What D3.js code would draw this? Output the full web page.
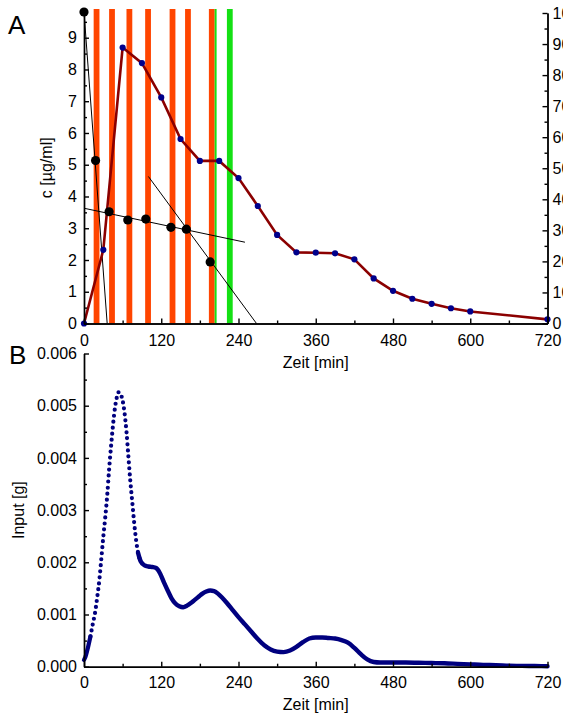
<!DOCTYPE html>
<html>
<head>
<meta charset="utf-8">
<script src="https://cdn.jsdelivr.net/npm/d3@7"></script>
<style>
  body { margin: 0; background: #fff; }
  svg { display: block; font-family: "Liberation Sans", Arial, sans-serif; }
  .axis text { font-size: 16px; fill: #000; font-family: "Liberation Sans", Arial, sans-serif; }
  .axis path, .axis line { stroke: #000; stroke-width: 1.4; }
  .title { font-size: 16px; }
  .panel { font-size: 26px; }
</style>
</head>
<body>
<div id="chart"></div>
<script>
// panel A: concentration after the pulses
var timeA = [0, 30, 60, 90, 120, 150, 180, 210, 240, 270, 300, 330, 360, 390, 420, 450, 480, 510, 540, 570, 600, 720];
var concA = [0, 2.32, 8.69, 8.20, 7.12, 5.81, 5.12, 5.12, 4.58, 3.70, 2.79, 2.24, 2.23, 2.21, 2.02, 1.42, 1.03, 0.78, 0.62, 0.48, 0.38, 0.13];

// orange and green stripes (start / end, min)
var pulseStart = [15, 39, 66, 95, 133, 157, 194];
var pulseEnd = [24, 48, 75, 104, 142, 166, 203];
var greenStart = [203, 222];
var greenEnd = [206, 231];

// black points and the fitted lines
var fitTime = [0, 18, 39, 68, 96, 135, 159, 196];
var fitConc = [9.81, 5.13, 3.52, 3.26, 3.29, 3.03, 2.97, 1.94];
var fitLineStart = [[0, 9.81], [0, 3.63], [100, 4.63]];
var fitLineEnd = [[36, 0], [250, 2.56], [268, 0]];

var xTicks = [0, 120, 240, 360, 480, 600, 720];
var leftTicks = [0, 1, 2, 3, 4, 5, 6, 7, 8, 9];
var rightTicks = [0, 10, 20, 30, 40, 50, 60, 70, 80, 90, 100];

// panel B: input curve (g)
var timeB = [0, 2, 6, 10, 14, 17, 20, 24, 27, 30, 33, 36, 39, 42, 45, 48, 51, 54, 57, 60, 63, 66, 69, 72, 75, 78, 81, 84, 88,
  94, 100, 106, 112, 118, 124, 130, 136, 142, 148, 154, 160, 166, 172, 178, 184, 190, 196, 202, 208, 214, 222, 230,
  240, 250, 260, 270, 280, 290, 300, 310, 320, 330, 340, 350, 360, 370, 380, 390, 400, 410, 420, 430, 440, 450, 460,
  480, 500, 520, 540, 560, 580, 600, 620, 640, 660, 680, 700, 720];
var inputB = [0.13, 0.18, 0.36, 0.58, 0.84, 1.02, 1.28, 1.68, 2.08, 2.49, 2.86, 3.27, 3.78, 4.22, 4.62, 4.95, 5.16, 5.26, 5.22, 5.10, 4.86, 4.50, 4.02, 3.55, 3.15, 2.75, 2.42, 2.18, 2.02,
  1.94, 1.92, 1.91, 1.89, 1.79, 1.62, 1.46, 1.31, 1.21, 1.16, 1.14, 1.17, 1.22, 1.28, 1.34, 1.40, 1.44, 1.46, 1.45, 1.40, 1.33, 1.22, 1.10,
  0.95, 0.81, 0.67, 0.53, 0.41, 0.33, 0.29, 0.28, 0.31, 0.38, 0.47, 0.54, 0.56, 0.56, 0.55, 0.54, 0.51, 0.46, 0.36, 0.24, 0.14, 0.09, 0.08,
  0.08, 0.08, 0.075, 0.07, 0.065, 0.055, 0.045, 0.035, 0.03, 0.02, 0.015, 0.012, 0.01].map(function(v) { return v / 1000; });
var inputTicks = [0, 0.001, 0.002, 0.003, 0.004, 0.005, 0.006];

var svgWidth = 563;
var svgHeight = 719;

var svg = d3.select("#chart")
  .append("svg")
  .attr("width", svgWidth)
  .attr("height", svgHeight);

var left = 84, right = 547.5;

// ---------- panel A ----------
var topA = 12, bottomA = 323.5;
var x = d3.scaleLinear().domain([0, 720]).range([left, right]);
var yA = d3.scaleLinear().domain([0, 9.81]).range([bottomA, topA]);
var yR = d3.scaleLinear().domain([0, 100]).range([bottomA, topA + 1]);

var gA = svg.append("g");

pulseStart.forEach(function(s, i) {
  gA.append("rect")
    .attr("x", x(s))
    .attr("y", topA - 3)
    .attr("width", x(pulseEnd[i]) - x(s))
    .attr("height", bottomA - topA + 3)
    .attr("fill", "#ff4500");
});
greenStart.forEach(function(s, i) {
  gA.append("rect")
    .attr("x", x(s))
    .attr("y", topA - 3)
    .attr("width", x(greenEnd[i]) - x(s))
    .attr("height", bottomA - topA + 3)
    .attr("fill", "#14e014");
});

fitLineStart.forEach(function(p, i) {
  gA.append("line")
    .attr("x1", x(p[0]))
    .attr("y1", yA(p[1]))
    .attr("x2", x(fitLineEnd[i][0]))
    .attr("y2", yA(fitLineEnd[i][1]))
    .attr("stroke", "#000")
    .attr("stroke-width", 1);
});

var lineA = d3.line()
  .x(function(d, i) { return x(timeA[i]); })
  .y(function(d) { return yA(d); });

gA.append("path")
  .datum(concA)
  .attr("d", lineA)
  .attr("fill", "none")
  .attr("stroke", "#8b0000")
  .attr("stroke-width", 2.6);

gA.selectAll("circle.fit")
  .data(fitConc)
  .enter()
  .append("circle")
  .attr("class", "fit")
  .attr("cx", function(d, i) { return x(fitTime[i]); })
  .attr("cy", function(d) { return yA(d); })
  .attr("r", 4.6)
  .attr("fill", "#000");

gA.selectAll("circle.conc")
  .data(concA)
  .enter()
  .append("circle")
  .attr("class", "conc")
  .attr("cx", function(d, i) { return x(timeA[i]); })
  .attr("cy", function(d) { return yA(d); })
  .attr("r", 3.1)
  .attr("fill", "#00008b");

// axes A
gA.append("g").attr("class", "axis")
  .attr("transform", "translate(0," + bottomA + ")")
  .call(d3.axisBottom(x).tickValues([60, 180, 300, 420, 540, 660]).tickSize(-3).tickSizeOuter(0).tickFormat(""));
gA.append("g").attr("class", "axis")
  .attr("transform", "translate(0," + bottomA + ")")
  .call(d3.axisBottom(x).tickValues(xTicks).tickSize(-5).tickSizeOuter(0).tickPadding(11).tickFormat(d3.format("d")));

gA.append("g").attr("class", "axis")
  .attr("transform", "translate(" + left + ",0)")
  .call(d3.axisLeft(yA).tickValues(d3.range(0.5, 9.6, 1)).tickSize(-3).tickSizeOuter(0).tickFormat(""));
gA.append("g").attr("class", "axis")
  .attr("transform", "translate(" + left + ",0)")
  .call(d3.axisLeft(yA).tickValues(leftTicks).tickSize(-5).tickSizeOuter(0).tickPadding(7).tickFormat(d3.format("d")));

// right axis: the labels run off the page edge as in the original figure
gA.append("g").attr("class", "axis")
  .attr("transform", "translate(" + right + ",0)")
  .call(d3.axisRight(yR).tickValues(d3.range(5, 100, 10)).tickSize(-3).tickSizeOuter(0).tickFormat(""));
gA.append("g").attr("class", "axis")
  .attr("transform", "translate(" + right + ",0)")
  .call(d3.axisRight(yR).tickValues(rightTicks).tickSize(-5).tickSizeOuter(0).tickPadding(5).tickFormat(d3.format("d")));

svg.append("text")
  .attr("class", "title")
  .attr("transform", "translate(51.5," + ((topA + bottomA) / 2) + ") rotate(-90)")
  .attr("text-anchor", "middle")
  .text("c [µg/ml]");

svg.append("text")
  .attr("class", "title")
  .attr("x", (left + right) / 2)
  .attr("y", 368)
  .attr("text-anchor", "middle")
  .text("Zeit [min]");

svg.append("text")
  .attr("class", "panel")
  .attr("x", 8)
  .attr("y", 34)
  .text("A");

// ---------- panel B ----------
var topB = 353.5, bottomB = 666.7;
var yB = d3.scaleLinear().domain([0, 0.006]).range([bottomB, topB]);
var gB = svg.append("g");

var lineB = d3.line()
  .x(function(d) { return x(d[0]); })
  .y(function(d) { return yB(d[1]); })
  .curve(d3.curveMonotoneX);

var pointsB = timeB.map(function(t, i) { return [t, inputB[i]]; });

// steep part: single points stand apart, flat part: they merge into a band
gB.append("path")
  .datum(pointsB.filter(function(d) { return d[0] <= 12; }))
  .attr("d", lineB)
  .attr("fill", "none")
  .attr("stroke", "#00007f")
  .attr("stroke-width", 4.2)
  .attr("stroke-linecap", "round");
gB.append("path")
  .datum(pointsB.filter(function(d) { return d[0] >= 10 && d[0] <= 88; }))
  .attr("d", lineB)
  .attr("fill", "none")
  .attr("stroke", "#00007f")
  .attr("stroke-width", 4.2)
  .attr("stroke-linecap", "round")
  .attr("stroke-dasharray", "0 6");
gB.append("path")
  .datum(pointsB.filter(function(d) { return d[0] >= 84; }))
  .attr("d", lineB)
  .attr("fill", "none")
  .attr("stroke", "#00007f")
  .attr("stroke-width", 4.4)
  .attr("stroke-linecap", "round");

gB.append("g").attr("class", "axis")
  .attr("transform", "translate(0," + bottomB + ")")
  .call(d3.axisBottom(x).tickValues([60, 180, 300, 420, 540, 660]).tickSize(-3).tickSizeOuter(0).tickFormat(""));
gB.append("g").attr("class", "axis")
  .attr("transform", "translate(0," + bottomB + ")")
  .call(d3.axisBottom(x).tickValues(xTicks).tickSize(-5).tickSizeOuter(0).tickPadding(10).tickFormat(d3.format("d")));

gB.append("g").attr("class", "axis")
  .attr("transform", "translate(" + left + ",0)")
  .call(d3.axisLeft(yB).tickValues(d3.range(0.0005, 0.006, 0.001)).tickSize(-3).tickSizeOuter(0).tickFormat(""));
gB.append("g").attr("class", "axis")
  .attr("transform", "translate(" + left + ",0)")
  .call(d3.axisLeft(yB).tickValues(inputTicks).tickSize(-5).tickSizeOuter(0).tickPadding(7).tickFormat(d3.format(".3f")));

svg.append("text")
  .attr("class", "title")
  .attr("transform", "translate(23.5," + ((topB + bottomB) / 2) + ") rotate(-90)")
  .attr("text-anchor", "middle")
  .text("Input [g]");

svg.append("text")
  .attr("class", "title")
  .attr("x", (left + right) / 2)
  .attr("y", 710)
  .attr("text-anchor", "middle")
  .text("Zeit [min]");

svg.append("text")
  .attr("class", "panel")
  .attr("x", 9)
  .attr("y", 364)
  .text("B");
</script>
</body>
</html>
